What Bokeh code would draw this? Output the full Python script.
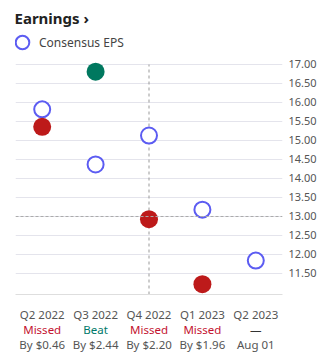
from bokeh.plotting import figure
from bokeh.models import (FactorRange, Range1d, FixedTicker, PrintfTickFormatter,
                          Span, Legend, LegendItem, ColumnDataSource)
from bokeh.layouts import column
from bokeh.core.properties import value
from bokeh.embed import file_html
from bokeh.resources import INLINE

quarters = ["Q2 2022", "Q3 2022", "Q4 2022", "Q1 2023", "Q2 2023"]
consensus = [15.82, 14.37, 15.13, 13.18, 11.84]
actual = [15.36, 16.81, 12.93, 11.22, float("nan")]
status = ["Missed", "Beat", "Missed", "Missed", "—"]
detail = ["By $0.46", "By $2.44", "By $2.20", "By $1.96", "Aug 01"]
y_ticks = [11.5, 12.0, 12.5, 13.0, 13.5, 14.0, 14.5, 15.0, 15.5, 16.0, 16.5, 17.0]
hover_y = 13.0
hover_q = "Q4 2022"

FONT = "Noto Sans"
RED = "#bd1a1a"
GREEN = "#00785f"
BLUE = "#5c5cf2"
status_colors = {"Missed": "#c3122f", "Beat": "#00796a", "—": "#333333"}

Y_MIN, Y_MAX = 10.947, 17.842

xr = FactorRange(factors=quarters, range_padding=0)

p = figure(width=332, height=300, x_range=xr, y_range=Range1d(Y_MIN, Y_MAX),
           output_backend="svg", toolbar_location=None, y_axis_location="right",
           min_border_left=15, min_border_right=50, min_border_top=0, min_border_bottom=0)
p.outline_line_color = None
p.background_fill_color = "white"

p.title.text = "Earnings ›"
p.title.text_font = FONT
p.title.text_font_size = "15px"
p.title.text_font_style = "bold"
p.title.text_color = "#222222"
p.title.align = "left"
p.title.offset = -1

yax = p.yaxis[0]
yax.ticker = FixedTicker(ticks=y_ticks)
yax.formatter = PrintfTickFormatter(format="%.2f")
yax.axis_line_color = None
yax.major_tick_line_color = None
yax.minor_tick_line_color = None
yax.major_tick_out = 0
yax.major_tick_in = 0
yax.major_label_standoff = 6
yax.major_label_text_font = FONT
yax.major_label_text_font_size = "11px"
yax.major_label_text_color = "#555555"

xax = p.xaxis[0]
xax.axis_line_color = "#dedede"
xax.major_tick_line_color = None
xax.minor_tick_line_color = None
xax.major_label_text_font_size = "1px"
xax.major_label_text_color = None
xax.major_label_standoff = 0

p.xgrid.grid_line_color = None
p.ygrid.grid_line_color = "#e4e4ec"
p.ygrid.ticker = FixedTicker(ticks=y_ticks)

p.segment(x0=[hover_q], y0=[Y_MIN], x1=[hover_q], y1=[y_ticks[-1]],
          line_color="#999999", line_dash="3 3", line_width=1)
p.add_layout(Span(location=hover_y, dimension="width",
                  line_color="#aaaaaa", line_dash="3 2", line_width=1))

cons_src = ColumnDataSource(dict(q=quarters, v=consensus))
cons_r = p.scatter("q", "v", source=cons_src, size=16, fill_color="white",
                   line_color=BLUE, line_width=2)

act_colors = [GREEN if s == "Beat" else RED for s in status]
act_src = ColumnDataSource(dict(q=quarters, v=actual, c=act_colors))
p.scatter("q", "v", source=act_src, size=18, fill_color="c", line_color=None)

legend = Legend(items=[LegendItem(label="Consensus EPS", renderers=[cons_r])],
                location=(-10, 235), orientation="horizontal", padding=0, margin=0,
                border_line_color=None, background_fill_alpha=0,
                glyph_width=34, glyph_height=34, label_standoff=0,
                label_text_font=FONT, label_text_font_size="12px",
                label_text_color="#444444")
p.add_layout(legend)

# bottom labels
b = figure(width=332, height=58, x_range=xr, y_range=Range1d(2.933, -0.933),
           output_backend="svg", toolbar_location=None,
           min_border_left=15, min_border_right=50, min_border_top=0, min_border_bottom=0)
b.outline_line_color = None
b.axis.visible = False
b.grid.visible = False

rows_q, rows_y, rows_t, rows_c = [], [], [], []
for i, q in enumerate(quarters):
    rows_q += [q, q, q]
    rows_y += [0, 1, 2]
    rows_t += [q, status[i], detail[i]]
    rows_c += ["#555555", status_colors[status[i]], "#555555"]
lab_src = ColumnDataSource(dict(q=rows_q, y=rows_y, t=rows_t, c=rows_c))
b.text("q", "y", text="t", source=lab_src, text_color="c", text_align="center",
       text_baseline="middle", text_font=value(FONT), text_font_size="11.5px")

layout = column(p, b, spacing=0)
open("out.html", "w").write(file_html(layout, INLINE))
